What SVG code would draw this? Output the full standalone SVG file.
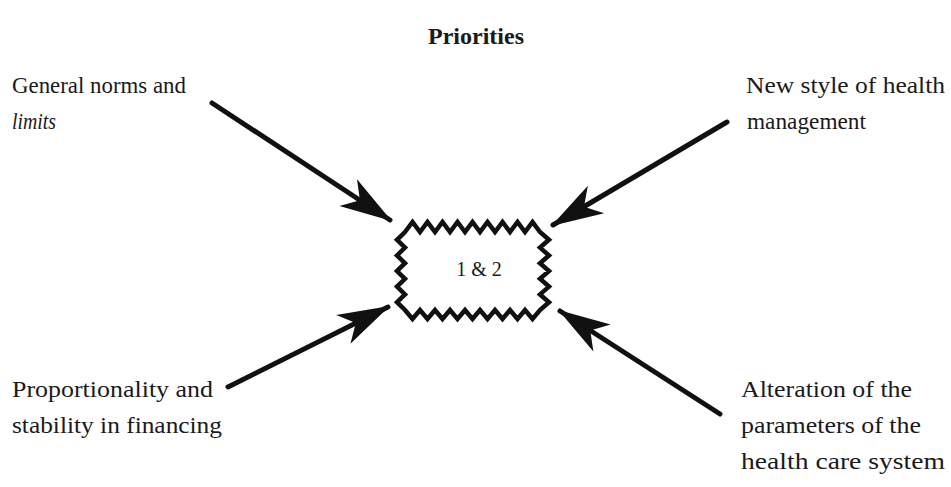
<svg xmlns="http://www.w3.org/2000/svg" width="951" height="487" viewBox="0 0 951 487">
<style>
text{font-family:"Liberation Serif","Times New Roman",serif;fill:#1a1a1a;font-size:23px}
.title{font-weight:bold;font-size:24px}
.conn{stroke:#111;stroke-width:5;fill:none;stroke-linecap:round}
.box{stroke:#111;stroke-width:4.5;fill:#fff;stroke-linejoin:miter}
</style>
<defs>
<marker id="ah" markerUnits="userSpaceOnUse" viewBox="-52 -18 54 36" refX="0" refY="0" markerWidth="54" markerHeight="36" orient="auto">
<path d="M2,0 L-50,-16 L-36,0 L-50,16 Z" fill="#111"/>
</marker>
</defs>
<rect width="951" height="487" fill="#fff"/>
<g id="title"><text class="title" x="476" y="44" text-anchor="middle">Priorities</text></g>
<g id="center">
<path class="box" d="M405,232 L412.5,222 L420,232 L427.5,222 L435,232 L442.5,222 L450,232 L457.5,222 L465,232 L472.5,222 L480,232 L487.5,222 L495,232 L502.5,222 L510,232 L517.5,222 L525,232 L532.5,222 L540,232 L549,239.8 L540,247.6 L549,255.4 L540,263.2 L549,271 L540,278.8 L549,286.6 L540,294.4 L549,302.2 L540,310 L532.5,319 L525,310 L517.5,319 L510,310 L502.5,319 L495,310 L487.5,319 L480,310 L472.5,319 L465,310 L457.5,319 L450,310 L442.5,319 L435,310 L427.5,319 L420,310 L412.5,319 L405,310 L397,302.2 L405,294.4 L397,286.6 L405,278.8 L397,271 L405,263.2 L397,255.4 L405,247.6 L397,239.8 Z"/>
<text x="479" y="276" text-anchor="middle" style="font-size:20px">1 &amp; 2</text>
</g>
<g id="general-norms"><text x="12" y="93" textLength="174" lengthAdjust="spacingAndGlyphs">General norms and</text><text x="12" y="129" font-style="italic" textLength="44" lengthAdjust="spacingAndGlyphs">limits</text></g>
<g id="new-style"><text x="746" y="93" textLength="199" lengthAdjust="spacingAndGlyphs">New style of health</text><text x="747" y="129" textLength="119" lengthAdjust="spacingAndGlyphs">management</text></g>
<g id="proportionality"><text x="12" y="397" textLength="201" lengthAdjust="spacingAndGlyphs">Proportionality and</text><text x="12" y="433" textLength="210" lengthAdjust="spacingAndGlyphs">stability in financing</text></g>
<g id="alteration"><text x="741" y="397" textLength="171" lengthAdjust="spacingAndGlyphs">Alteration of the</text><text x="741" y="433" textLength="180" lengthAdjust="spacingAndGlyphs">parameters of the</text><text x="741" y="469" textLength="204" lengthAdjust="spacingAndGlyphs">health care system</text></g>
<g id="connectors">
<line class="conn" x1="212" y1="103" x2="390" y2="220" marker-end="url(#ah)"/>
<line class="conn" x1="727" y1="122" x2="553" y2="225" marker-end="url(#ah)"/>
<line class="conn" x1="228" y1="387" x2="388" y2="307" marker-end="url(#ah)"/>
<line class="conn" x1="720" y1="414" x2="560" y2="311" marker-end="url(#ah)"/>
</g>
</svg>
